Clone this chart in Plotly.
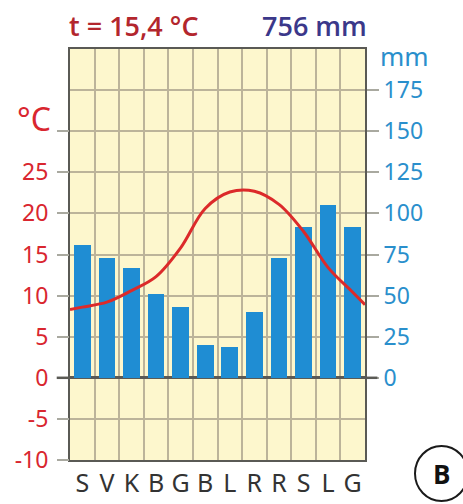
import plotly.graph_objects as go

# Monthly climate data (Lithuanian month initials)
months = ["S", "V", "K", "B", "G", "B", "L", "R", "R", "S", "L", "G"]
precip_mm = [81, 73, 67, 51, 43, 20, 19, 40, 73, 92, 105, 92]
temp_c = [8.6, 9.2, 10.6, 12.3, 15.8, 20.6, 22.6, 22.7, 21.1, 17.8, 13.4, 10.4]
mean_temp_label = "t = 15,4 °C"
total_precip_label = "756 mm"
temp_ticks = [-10, -5, 0, 5, 10, 15, 20, 25, 30]
precip_ticks = [0, 25, 50, 75, 100, 125, 150, 175]

x_pos = list(range(len(months)))

# Extend the temperature curve to the plot edges by linear extrapolation
line_x = [-0.5] + x_pos + [len(months) - 0.5]
line_y = ([temp_c[0] - (temp_c[1] - temp_c[0]) / 2] + temp_c +
          [temp_c[-1] + (temp_c[-1] - temp_c[-2]) / 2])

FONT = "Noto Sans, Open Sans, sans-serif"
RED = "#d9262f"
BLUE = "#2a8fcc"
GRID = "#bcb49a"


def lab(size, color, weight="normal"):
    return dict(family=FONT, size=size, color=color, weight=weight)


fig = go.Figure()
fig.add_trace(go.Bar(
    x=x_pos, y=precip_mm, width=0.68,
    marker=dict(color="#1f8dd3", line=dict(width=0)),
    yaxis="y", showlegend=False,
))
fig.add_trace(go.Scatter(
    x=line_x, y=line_y, mode="lines",
    line=dict(color="#dc2a2a", width=3, shape="spline", smoothing=1.0),
    yaxis="y2", showlegend=False,
))

fig.update_layout(
    width=463, height=504,
    margin=dict(l=70, r=98, t=49, b=44),
    paper_bgcolor="white",
    plot_bgcolor="#fdf7cd",
    bargap=0,
    xaxis=dict(
        range=[-0.5, len(months) - 0.5],
        tickvals=x_pos, ticktext=months,
        showgrid=False, ticks="",
        tickfont=lab(25, "#333333"),
        ticklabelstandoff=0,
        minor=dict(tick0=0.5, dtick=1, showgrid=True, gridcolor=GRID, gridwidth=1.5),
        showline=True, linecolor="#5a5a55", linewidth=2, mirror=True,
        zeroline=False, fixedrange=True, automargin=False,
    ),
    # Precipitation axis carries the grid (every 25 mm = every 5 °C)
    yaxis=dict(
        side="right",
        range=[-50, 200],
        tickvals=precip_ticks,
        ticks="outside", ticklen=12, tickwidth=1.5, tickcolor="#a9a9a0",
        tickfont=lab(23, BLUE),
        ticklabelstandoff=0,
        showgrid=False,
        minor=dict(tick0=0, dtick=25, showgrid=True, gridcolor=GRID, gridwidth=1.5),
        zeroline=True, zerolinecolor="#5a5a55", zerolinewidth=2.5,
        showline=True, linecolor="#5a5a55", linewidth=2, mirror=True,
        fixedrange=True, automargin=False,
    ),
    yaxis2=dict(
        overlaying="y", side="left",
        range=[-10, 40],
        tickvals=temp_ticks,
        ticktext=[str(v) for v in temp_ticks[:-1]] + [""],
        ticks="outside", ticklen=12, tickwidth=1.5, tickcolor="#a9a9a0",
        tickfont=lab(23, RED),
        ticklabelstandoff=4,
        showgrid=False, zeroline=False, showline=False,
        fixedrange=True, automargin=False,
    ),
    shapes=[
        # darker zero tick marks on both sides
        dict(type="line", xref="paper", yref="y", x0=-0.045, x1=0, y0=0, y1=0,
             line=dict(color="#5a5a55", width=2.5)),
        dict(type="line", xref="paper", yref="y", x0=1, x1=1.042, y0=0, y1=0,
             line=dict(color="#5a5a55", width=2.5)),
        # circled panel letter
        dict(type="circle", xref="paper", yref="paper",
             x0=(415 - 70) / 295, x1=(468 - 70) / 295,
             y0=(460 - 501) / 411, y1=(460 - 446) / 411,
             line=dict(color="#1a1a1a", width=2)),
    ],
    annotations=[
        dict(text=mean_temp_label, xref="paper", yref="paper",
             x=(67 - 70) / 295, y=1, xanchor="left", yanchor="bottom", yshift=3,
             showarrow=False,
             font=dict(family="Open Sans, Noto Sans, sans-serif", size=27, color="#b3262d", weight=600)),
        dict(text=total_precip_label, xref="paper", yref="paper",
             x=1, y=1, xanchor="right", yanchor="bottom", yshift=3, xshift=4,
             showarrow=False,
             font=dict(family="Open Sans, Noto Sans, sans-serif", size=27, color="#3b388a", weight=600)),
        dict(text="°C", xref="paper", yref="y2", x=0, y=31.5, xanchor="right",
             xshift=-17, showarrow=False, font=lab(32, RED)),
        dict(text="mm", xref="paper", yref="y", x=1, y=196, xanchor="left",
             xshift=13, showarrow=False, font=lab(26, BLUE)),
        dict(text="<b>B</b>", xref="paper", yref="paper",
             x=(441 - 70) / 295, y=(460 - 474) / 411, xanchor="center", yanchor="middle",
             showarrow=False, font=dict(family="Open Sans, sans-serif", size=26, color="#111111")),
    ],
)

fig.write_html("out.html")
